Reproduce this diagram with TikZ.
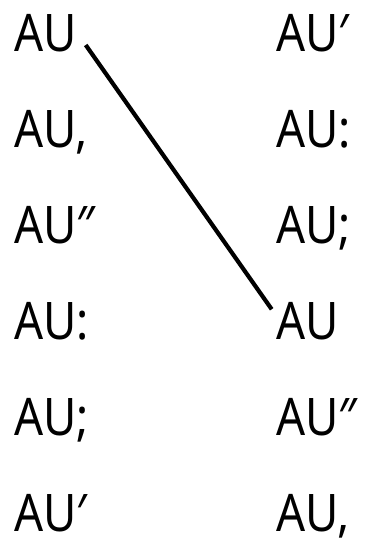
\documentclass[tikz,border=0pt]{standalone}
\usepackage{fontspec}
\setmainfont{Noto Sans}[FakeStretch=0.88]
\begin{document}
\begin{tikzpicture}[x=1pt,y=1pt,
  lbl/.style={anchor=base west,inner sep=0pt,outer sep=0pt,text=black,font=\fontsize{51.8}{60}\selectfont},
  link/.style={line width=4.2pt,black}]
\useasboundingbox (0,0) rectangle (365,540);
\node[lbl] (l1) at (14,488) {AU};
\node[lbl] (l2) at (14,392.2) {AU,};
\node[lbl] (l3) at (14,296.4) {AU″};
\node[lbl] (l4) at (14,200.6) {AU:};
\node[lbl] (l5) at (14,104.8) {AU;};
\node[lbl] (l6) at (14,9) {AU′};
\node[lbl] (r1) at (276,488) {AU′};
\node[lbl] (r2) at (276,392.2) {AU:};
\node[lbl] (r3) at (276,296.4) {AU;};
\node[lbl] (r4) at (276,200.6) {AU};
\node[lbl] (r5) at (276,104.8) {AU″};
\node[lbl] (r6) at (276,9) {AU,};
\coordinate (ls) at (85.7,495);
\coordinate (le) at (271.7,230.7);
\draw[link] (ls) -- (le);
\end{tikzpicture}
\end{document}
